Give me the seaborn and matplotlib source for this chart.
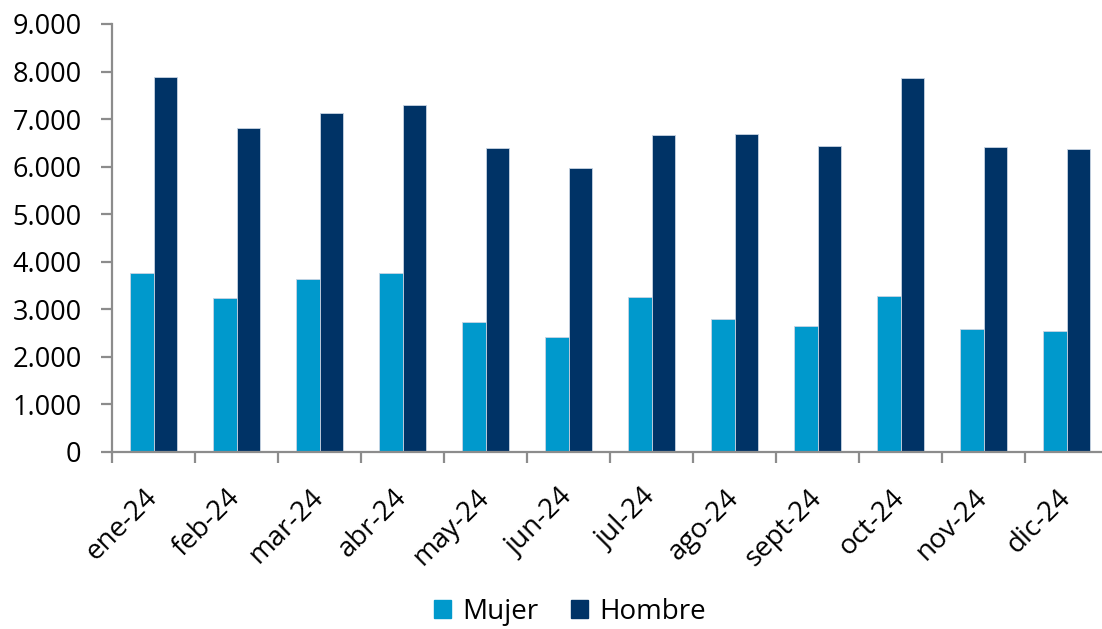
import numpy as np
import pandas as pd
import seaborn as sns
import matplotlib
matplotlib.use("Agg")
import matplotlib.pyplot as plt
from matplotlib.ticker import FuncFormatter, FixedLocator

# datos
meses = ["ene-24", "feb-24", "mar-24", "abr-24", "may-24", "jun-24",
         "jul-24", "ago-24", "sept-24", "oct-24", "nov-24", "dic-24"]
mujer = [3765, 3240, 3640, 3757, 2735, 2410, 3250, 2790, 2640, 3280, 2585, 2535]
hombre = [7885, 6812, 7128, 7303, 6390, 5962, 6657, 6685, 6426, 7865, 6411, 6369]
series = ["Mujer", "Hombre"]
colores = ["#0099CC", "#003366"]

df = pd.DataFrame({
    "mes": meses * 2,
    "valor": mujer + hombre,
    "sexo": ["Mujer"] * len(meses) + ["Hombre"] * len(meses),
})

sns.set_style("white")
plt.rcParams["font.family"] = ["Open Sans", "DejaVu Sans"]
plt.rcParams["text.color"] = "black"
plt.rcParams["xtick.labelcolor"] = "black"
plt.rcParams["ytick.labelcolor"] = "black"

fig = plt.figure(figsize=(11.02, 6.29), dpi=100)
ax = fig.add_axes([112 / 1102, 1 - 452 / 629, 1 - 112 / 1102, (452 - 24) / 629])

sns.barplot(data=df, x="mes", y="valor", hue="sexo", hue_order=series,
            palette=colores, order=meses, width=0.57, saturation=1,
            edgecolor="#c8d4e3", linewidth=0.6, ax=ax, legend=False)

gris = "#8c8c8c"
ax.set_ylim(0, 9000)
ax.set_xlim(-0.5, -0.5 + 990 / 83)
ax.set_yticks(np.arange(0, 9001, 1000))
ax.yaxis.set_major_formatter(FuncFormatter(lambda v, p: f"{int(v):,}".replace(",", ".")))
ax.set_xlabel("")
ax.set_ylabel("")

for s in ["top", "right"]:
    ax.spines[s].set_visible(False)
for s in ["left", "bottom"]:
    ax.spines[s].set_color(gris)
    ax.spines[s].set_linewidth(1.6)

ax.tick_params(axis="y", length=8, width=1.6, color=gris, pad=14, labelsize=19.5,
               labelcolor="black", left=True)
ax.xaxis.set_minor_locator(FixedLocator(np.arange(-0.5, 12, 1)))
ax.tick_params(axis="x", which="minor", length=8, width=1.6, color=gris, bottom=True)
ax.tick_params(axis="x", which="major", length=0, pad=30, labelsize=20, labelcolor="black")
for lbl in ax.get_xticklabels():
    lbl.set_rotation(45)
    lbl.set_ha("right")
    lbl.set_rotation_mode("anchor")
    lbl.set_va("center")

handles = [plt.Rectangle((0, 0), 1, 1, color=c) for c in colores]
fig.legend(handles, series, loc="center", bbox_to_anchor=(570 / 1102, 1 - 612 / 629), ncol=2,
           frameon=False, fontsize=20, handlelength=0.6, handleheight=0.6,
           handletextpad=0.4, columnspacing=1.2)

fig.savefig("out.png", dpi=100)
